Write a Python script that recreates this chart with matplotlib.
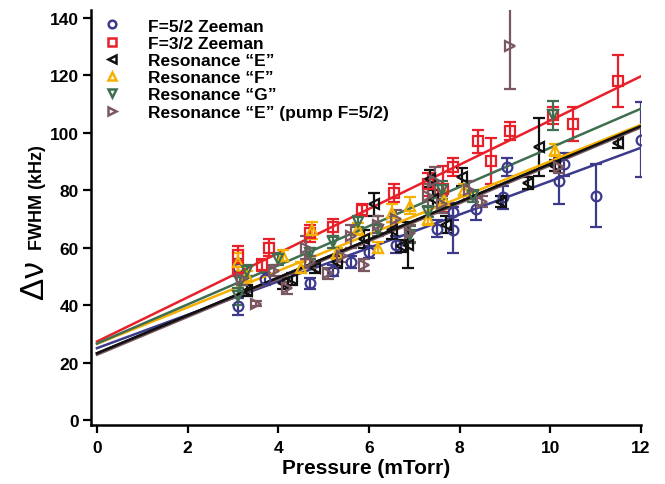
import matplotlib.pyplot as plt
import numpy as np

plt.rcParams['font.family'] = ['Liberation Sans', 'DejaVu Sans']
plt.rcParams['font.weight'] = 'bold'

# ---- data ----
# F=5/2 Zeeman
f52_x = [3.1, 3.1, 3.7, 4.7, 5.2, 5.6, 6.0, 6.6, 7.5, 7.85, 7.85, 8.35, 8.95, 9.05, 10.2, 10.3, 11.0, 12.0]
f52_y = [39.5, 53, 49, 47.5, 52, 55, 58.5, 61, 66.5, 66, 72.5, 73.5, 77.5, 88, 83, 89, 78, 97.5]
f52_e = [3, 3, 2, 2, 2, 2, 2, 3, 3, 8, 3, 4, 4, 3, 8, 4, 11, 13]

# F=3/2 Zeeman
f32_x = [3.1, 3.1, 3.65, 3.8, 4.7, 5.2, 5.85, 6.55, 7.3, 7.63, 7.85, 8.4, 8.7, 9.1, 10.05, 10.5, 11.5]
f32_y = [57.5, 53, 54, 60, 65, 67, 73, 79, 82, 80.5, 88, 97, 90, 100.5, 106, 103, 118]
f32_e = [3, 2, 2, 3, 3, 3, 2, 3, 4, 8, 3, 4, 8, 3, 3, 6, 9]

# Resonance "E"
resE_x = [3.3, 4.1, 4.3, 4.8, 5.3, 5.9, 6.1, 6.5, 6.7, 6.85, 7.35, 7.4, 7.7, 8.05, 8.9, 9.5, 9.75, 10.1, 11.5]
resE_y = [45, 47.5, 49, 53, 55, 63, 75, 66, 60.5, 61, 84, 77, 68, 84.5, 76, 82.5, 95, 88.5, 96.5]
resE_e = [2, 2, 2, 2, 2, 3, 4, 3, 2, 8, 3, 3, 3, 3, 2, 2, 10, 2, 2]

# Resonance "F"
resF_x = [3.1, 3.3, 4.1, 4.5, 4.75, 5.3, 5.75, 6.2, 6.5, 6.9, 7.3, 7.65, 8.1, 10.1]
resF_y = [55, 50, 57, 53, 66, 58, 66.5, 60, 72, 74.5, 70, 76.5, 80, 94]
resF_e = [3, 2, 2, 2, 3, 2, 2, 2, 3, 3, 2, 3, 2, 2]

# Resonance "G"
resG_x = [3.1, 3.15, 3.3, 4.0, 4.7, 5.2, 5.75, 6.2, 6.9, 7.3, 7.6, 8.3, 10.05]
resG_y = [43, 48, 52, 56, 58, 62, 69, 66, 64.5, 72.5, 80, 78, 106]
resG_e = [3, 3, 2, 2, 2, 2, 2, 2, 3, 2, 3, 2, 5]

# Resonance "E" (pump F=5/2)
resEp_x = [3.2, 3.5, 3.9, 4.2, 4.6, 4.7, 5.1, 5.4, 5.6, 5.9, 6.2, 6.6, 6.9, 7.3, 7.45, 7.6, 8.2, 8.5, 9.1, 10.2]
resEp_y = [49, 40.5, 52, 46, 60, 55, 51, 57, 64, 54, 68, 70, 65, 78, 83, 75, 80, 76, 130, 88]
resEp_e = [2, 1, 2, 2, 4, 2, 2, 2, 4, 2, 3, 3, 3, 4, 5, 3, 3, 2, 15, 2]

# linear fits: intercept, slope
fit_f52 = (25.0, 5.81)
fit_f32 = (27.3, 7.69)
fit_E = (23.2, 6.59)
fit_F = (26.5, 6.35)
fit_G = (26.6, 6.81)
fit_Ep = (22.7, 6.59)

series = [
    ('F=5/2 Zeeman', f52_x, f52_y, f52_e, fit_f52, '#3d3a8c', 'o'),
    ('F=3/2 Zeeman', f32_x, f32_y, f32_e, fit_f32, '#e8202a', 's'),
    ('Resonance \u201cE\u201d', resE_x, resE_y, resE_e, fit_E, '#111111', '<'),
    ('Resonance \u201cF\u201d', resF_x, resF_y, resF_e, fit_F, '#f5b000', '^'),
    ('Resonance \u201cG\u201d', resG_x, resG_y, resG_e, fit_G, '#3f6e50', 'v'),
    ('Resonance \u201cE\u201d (pump F=5/2)', resEp_x, resEp_y, resEp_e, fit_Ep, '#7a5862', '>'),
]

fig = plt.figure(figsize=(6.65, 4.85), dpi=100)
ax = fig.add_axes([0.137, 0.1216, 0.827, 0.855])

xfit = np.array([0, 12])
handles = []
for label, x, y, e, (b, m), col, mk in series:
    ax.errorbar(x, y, yerr=e, fmt=mk, color=col, mfc='none', mec=col, ms=7, mew=1.6,
                elinewidth=1.6, capsize=4, capthick=1.6)
    ax.plot(xfit, b + m * xfit, color=col, lw=1.8)
    h, = ax.plot([], [], mk, color=col, mfc='none', mew=1.8, ms=5.5, label=label)
    handles.append(h)

# black line drawn again so it sits over brown
ax.plot(xfit, fit_E[0] + fit_E[1] * xfit, color='#111111', lw=1.8)

ax.set_xlim(-0.13, 12)
ax.set_ylim(-1.74, 142.5)
ax.set_xticks(range(0, 13, 2))
ax.set_yticks(range(0, 141, 20))
for s in ['top', 'right']:
    ax.spines[s].set_visible(False)
for s in ['left', 'bottom']:
    ax.spines[s].set_linewidth(1.8)
ax.tick_params(direction='out', length=6, width=1.6, labelsize=12.5, pad=3)
ax.tick_params(axis='x', pad=5)
for t in ax.get_xticklabels() + ax.get_yticklabels():
    t.set_fontweight('bold')

ax.set_xlabel('Pressure (mTorr)', fontsize=15, fontweight='bold', labelpad=2)

fig.text(0.052, 0.424, '\u0394\u03bd', rotation=90, fontsize=24, fontweight='normal',
         ha='center', va='center')
fig.text(0.056, 0.592, 'FWHM (kHz)', rotation=90, fontsize=13, fontweight='bold',
         ha='center', va='center')

ax.legend(handles=handles, loc='upper left', bbox_to_anchor=(0.0, 1.01), frameon=False,
          prop={'size': 12.5, 'weight': 'bold'}, handlelength=1.0, handletextpad=1.6,
          labelspacing=0.12, borderaxespad=0.3)

fig.savefig('out.png', dpi=100)
